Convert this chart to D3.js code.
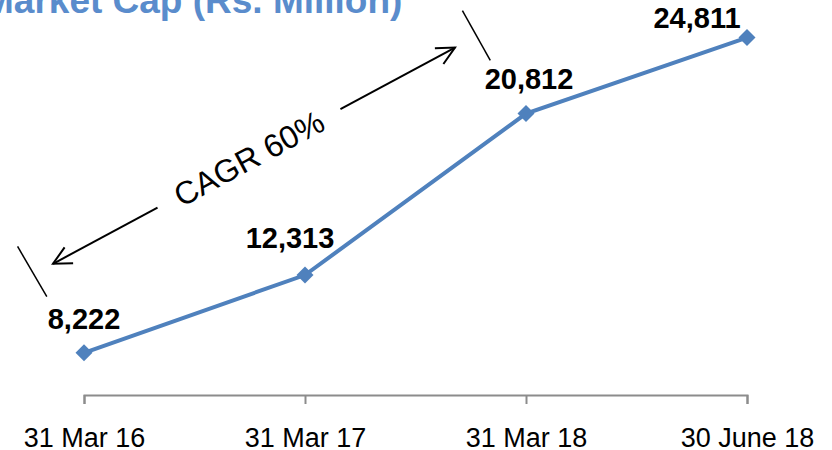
<!DOCTYPE html>
<html>
<head>
<meta charset="utf-8">
<script src="https://cdn.jsdelivr.net/npm/d3@7"></script>
<style>
  body { margin: 0; background: #fff; }
  svg { display: block; }
</style>
</head>
<body>
<script>
// chart data
const categories = ['31 Mar 16', '31 Mar 17', '31 Mar 18', '30 June 18'];
const marketCap = [8222, 12313, 20812, 24811];
const title = 'Market Cap (Rs. Million)';
const cagrText = 'CAGR 60%';

// label nudges (label offsets from the marker, px)
const labelDx = [0, -15, 3, -50];
const labelDy = [-24, -27, -25, -10];

const width = 832, height = 450;
const blue = '#4f81bd';

const svg = d3.select('body')
  .append('svg')
  .attr('width', width)
  .attr('height', height);

const x = d3.scalePoint()
  .domain(categories)
  .range([84, 747]);

const y = d3.scaleLinear()
  .domain([6000, 26000])
  .range([395, 15]);

// title, cut off at the top like the slide crop
svg.append('text')
  .attr('x', -17)
  .attr('y', 13)
  .attr('font-family', 'Liberation Sans, Arial, sans-serif')
  .attr('font-weight', 'bold')
  .attr('font-size', 37)
  .attr('fill', '#5a8ccc')
  .text(title);

// x axis
const axis = svg.append('g')
  .attr('transform', `translate(0,${y.range()[0]})`)
  .call(d3.axisBottom(x).tickSize(9).tickSizeOuter(9));

axis.select('.domain')
  .attr('stroke', '#8c8c8c')
  .attr('stroke-width', 2);
axis.selectAll('.tick line')
  .attr('stroke', '#8c8c8c')
  .attr('stroke-width', 2);
axis.selectAll('.tick text')
  .attr('y', 52)
  .attr('dy', 0)
  .attr('fill', '#000')
  .attr('font-family', 'Liberation Sans, Arial, sans-serif')
  .attr('font-size', 27);

const pts = categories.map((c, i) => ({ c, v: marketCap[i], i }));

// line
svg.append('path')
  .datum(pts)
  .attr('fill', 'none')
  .attr('stroke', blue)
  .attr('stroke-width', 4)
  .attr('d', d3.line().x(d => x(d.c)).y(d => y(d.v)));

// diamond markers
svg.selectAll('.marker')
  .data(pts)
  .enter()
  .append('path')
  .attr('class', 'marker')
  .attr('fill', blue)
  .attr('d', d3.symbol().type(d3.symbolSquare).size(144))
  .attr('transform', d => `translate(${x(d.c)},${y(d.v)}) rotate(45)`);

// value labels
svg.selectAll('.val')
  .data(pts)
  .enter()
  .append('text')
  .attr('class', 'val')
  .attr('x', d => x(d.c) + labelDx[d.i])
  .attr('y', d => y(d.v) + labelDy[d.i])
  .attr('text-anchor', 'middle')
  .attr('font-family', 'Liberation Sans, Arial, sans-serif')
  .attr('font-weight', 'bold')
  .attr('font-size', 29)
  .attr('fill', '#000')
  .text(d => d3.format(',')(d.v));

// CAGR annotation: double arrow between first and third point
const p0 = [x(categories[0]), y(marketCap[0])];
const p2 = [x(categories[2]), y(marketCap[2])];
const a = [p0[0] - 31, p0[1] - 89];
const b = [p2[0] - 71, p2[1] - 66];
const ang = Math.atan2(b[1] - a[1], b[0] - a[0]);
const len = Math.hypot(b[0] - a[0], b[1] - a[1]);
const deg = ang * 180 / Math.PI;

const ann = svg.append('g')
  .attr('transform', `translate(${a[0]},${a[1]}) rotate(${deg})`)
  .attr('stroke', '#000')
  .attr('fill', 'none')
  .attr('stroke-width', 2);

const gap0 = len * 0.26, gap1 = len * 0.715;
ann.append('line').attr('x1', 0).attr('x2', gap0).attr('y1', 0).attr('y2', 0);
ann.append('line').attr('x1', gap1).attr('x2', len).attr('y1', 0).attr('y2', 0);
ann.append('path').attr('d', 'M18,-9L0,0L18,9');
ann.append('path').attr('d', `M${len - 18},-9L${len},0L${len - 18},9`);

// end ticks
ann.append('line')
  .attr('stroke-width', 1.5)
  .attr('x1', -23).attr('y1', -32).attr('x2', -21).attr('y2', 26);
ann.append('line')
  .attr('stroke-width', 1.5)
  .attr('x1', len + 24).attr('y1', -29).attr('x2', len + 25).attr('y2', 28);

ann.append('text')
  .attr('x', (gap0 + gap1) / 2)
  .attr('y', 0)
  .attr('dy', '0.35em')
  .attr('text-anchor', 'middle')
  .attr('stroke', 'none')
  .attr('fill', '#000')
  .attr('font-family', 'Liberation Sans, Arial, sans-serif')
  .attr('font-size', 32)
  .text(cagrText);
</script>
</body>
</html>
